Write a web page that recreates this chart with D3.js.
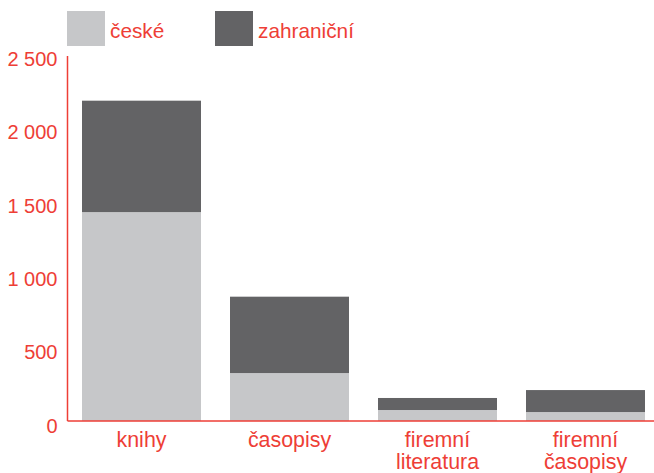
<!DOCTYPE html>
<html>
<head>
<meta charset="utf-8">
<script src="https://cdn.jsdelivr.net/npm/d3@7"></script>
<style>
  body { margin: 0; background: #fff; }
  text { font-family: "Liberation Sans", Arial, sans-serif; }
</style>
</head>
<body>
<div></div>
<script>
const width = 654;
const height = 473;

const categories = [["knihy"], ["časopisy"], ["firemní", "literatura"], ["firemní", "časopisy"]];
const series = ["české", "zahraniční"];
const ceske = [1425, 327, 75, 61];
const zahranicni = [760, 521, 82, 150];
const ticks = [0, 500, 1000, 1500, 2000, 2500];

const red = "#ee3e36";
const colors = ["#c6c7c9", "#636365"];

const svg = d3
  .select("div")
  .append("svg")
  .attr("width", width)
  .attr("height", height);

const x = d3
  .scaleBand()
  .domain(d3.range(categories.length))
  .range([67.5, 659.5])
  .paddingInner(0.196)
  .paddingOuter(0.098);

const y = d3.scaleLinear().domain([0, 2500]).range([421, 54.5]);

const rows = categories.map((c, i) => ({ i: i, "české": ceske[i], "zahraniční": zahranicni[i] }));
const stacked = d3.stack().keys(series)(rows);

svg
  .selectAll("g.layer")
  .data(stacked)
  .enter()
  .append("g")
  .attr("class", "layer")
  .attr("fill", (d, i) => colors[i])
  .selectAll("rect")
  .data((d) => d)
  .enter()
  .append("rect")
  .attr("x", (d) => x(d.data.i))
  .attr("y", (d) => y(d[1]))
  .attr("width", x.bandwidth())
  .attr("height", (d) => y(d[0]) - y(d[1]));

// y axis
const yAxis = svg
  .append("g")
  .attr("transform", "translate(67.5,0)")
  .call(d3.axisLeft(y).tickValues(ticks).tickSize(0).tickPadding(10)
    .tickFormat((d) => d3.format(",")(d).replace(",", " ")));
yAxis.select(".domain").attr("stroke", red).attr("stroke-width", 1.5).attr("d", "M0," + y(2500 - 10) + "V" + y(0));
yAxis
  .selectAll("text")
  .attr("fill", red)
  .attr("font-size", "20px")
  .attr("font-family", "Liberation Sans, Arial, sans-serif")
  .attr("dy", "0.55em");

// baseline
svg
  .append("line")
  .attr("x1", 67.5)
  .attr("x2", width)
  .attr("y1", y(0))
  .attr("y2", y(0))
  .attr("stroke", red)
  .attr("stroke-width", 1.5);

// category labels
svg
  .selectAll("text.cat")
  .data(categories)
  .enter()
  .append("text")
  .attr("class", "cat")
  .attr("text-anchor", "middle")
  .attr("fill", red)
  .attr("font-size", "21.4px")
  .selectAll("tspan")
  .data((d, i) => d.map((t) => ({ t: t, i: i })))
  .enter()
  .append("tspan")
  .attr("x", (d) => x(d.i) + x.bandwidth() / 2)
  .attr("y", (d, j) => 447 + j * 21.5)
  .text((d) => d.t);

// legend
const legendX = [67, 215];
const legend = svg
  .selectAll("g.legend")
  .data(series)
  .enter()
  .append("g")
  .attr("class", "legend")
  .attr("transform", (d, i) => "translate(" + legendX[i] + ",11)");

legend
  .append("rect")
  .attr("width", 38)
  .attr("height", 35)
  .attr("fill", (d, i) => colors[i]);

legend
  .append("text")
  .attr("x", 43)
  .attr("y", 27)
  .attr("fill", red)
  .attr("font-size", "20.8px")
  .text((d) => d);
</script>
</body>
</html>
